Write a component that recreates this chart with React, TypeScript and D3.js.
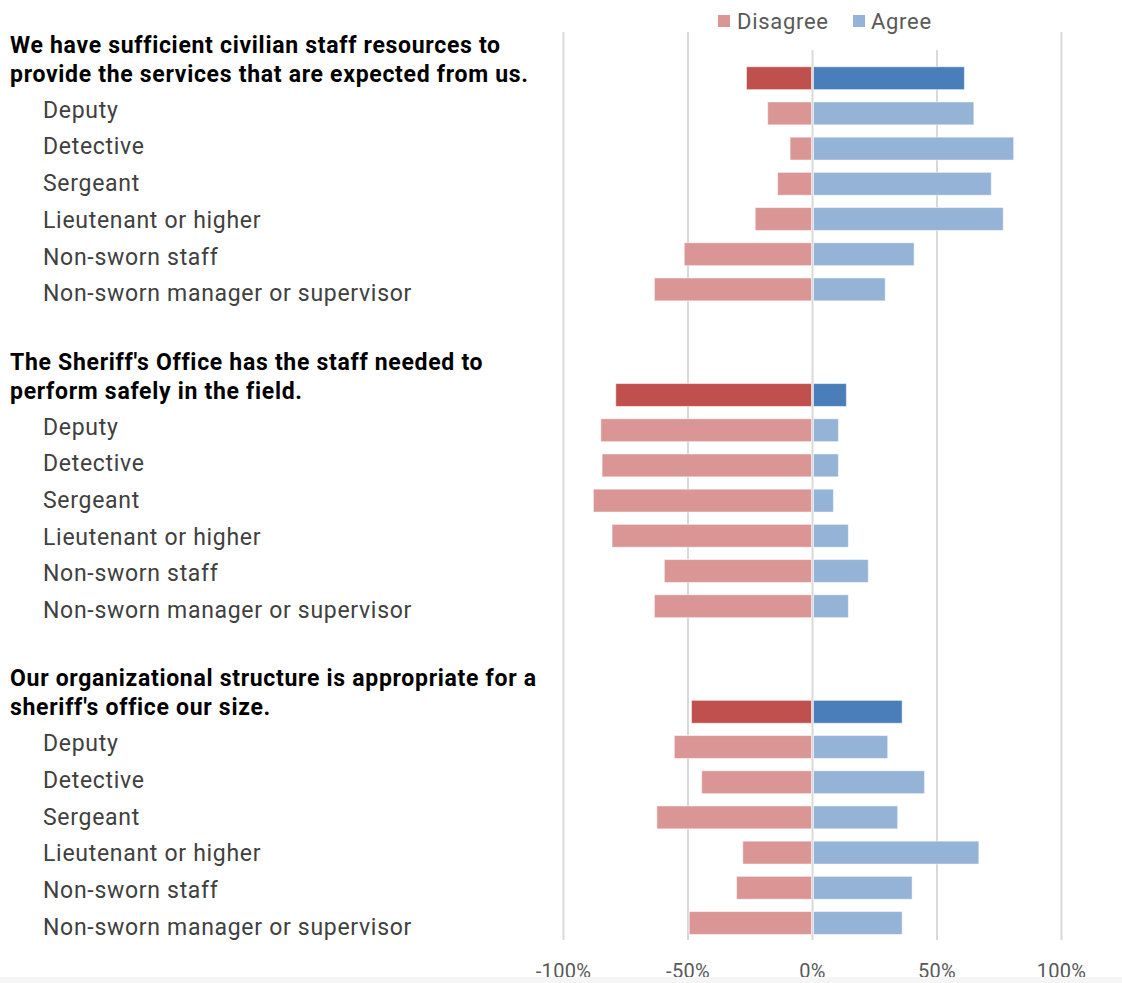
import React from "react";
import * as d3 from "d3";

const questionLines: string[][] = [
  ["We have sufficient civilian staff resources to", "provide the services that are expected from us."],
  ["The Sheriff's Office has the staff needed to", "perform safely in the field."],
  ["Our organizational structure is appropriate for a", "sheriff's office our size."],
];
const roles = [
  "Deputy",
  "Detective",
  "Sergeant",
  "Lieutenant or higher",
  "Non-sworn staff",
  "Non-sworn manager or supervisor",
];
const disagreeTotal = [-26.5, -79, -48.6];
const agreeTotal = [61, 13.6, 36];
const disagreeByRole = [
  [-18, -9, -14, -23, -51.5, -63.5],
  [-85, -84.5, -88, -80.5, -59.5, -63.5],
  [-55.5, -44.5, -62.5, -28, -30.5, -49.5],
];
const agreeByRole = [
  [64.8, 80.8, 71.8, 76.6, 40.8, 29.2],
  [10.4, 10.4, 8.4, 14.4, 22.4, 14.4],
  [30.2, 45, 34.2, 66.8, 40, 36],
];
const ticks = [-100, -50, 0, 50, 100];
const legendItems = ["Disagree", "Agree"];

const W = 1122;
const H = 983;

export default function App() {
  const x = d3.scaleLinear().domain([-100, 100]).range([563.5, 1061.5]);
  // 9 slots per question: 2 for the title, 1 total, 6 roles
  const slots: string[] = [];
  questionLines.forEach((_, g) => {
    slots.push(`g${g}-a`, `g${g}-b`, `g${g}-t`);
    roles.forEach((_, i) => slots.push(`g${g}-r${i}`));
  });
  const y = d3.scaleBand<string>().domain(slots).range([-9.8, 940.6]).paddingInner(0.35).paddingOuter(0.175);
  const bh = y.bandwidth();
  const cy = (k: string) => (y(k) as number) + bh / 2;

  const rows: { key: string; dis: number; agr: number; total: boolean }[] = [];
  questionLines.forEach((_, g) => {
    rows.push({ key: `g${g}-t`, dis: disagreeTotal[g], agr: agreeTotal[g], total: true });
    roles.forEach((r, i) =>
      rows.push({ key: `g${g}-r${i}`, dis: disagreeByRole[g][i], agr: agreeByRole[g][i], total: false })
    );
  });

  const font = "Roboto, 'Noto Sans', sans-serif";
  const gridTop = 32;
  const gridBottom = 940;

  return (
    <svg
      width={W}
      height={H}
      style={{ position: "absolute", left: 0, top: 0, background: "#fff" }}
      fontFamily={font}
    >
      <rect x={0} y={0} width={W} height={H} fill="#fff" />
      {ticks.map((t) => (
        <line key={t} x1={x(t)} x2={x(t)} y1={gridTop} y2={gridBottom} stroke="#d9d9d9" strokeWidth={2} />
      ))}
      {/* legend box */}
      <rect x={705} y={0} width={245} height={50} fill="#fff" />
      <g>
        <rect x={718} y={15} width={12} height={12} fill="#D99694" />
        <text x={737} y={21} dominantBaseline="central" fontSize={22} letterSpacing={0.7} fill="#595959">
          {legendItems[0]}
        </text>
        <rect x={853} y={15} width={12} height={12} fill="#95B3D7" />
        <text x={871} y={21} dominantBaseline="central" fontSize={22} letterSpacing={0.7} fill="#595959">
          {legendItems[1]}
        </text>
      </g>
      {rows.map((r) => (
        <g key={r.key}>
          <rect
            x={x(r.dis)}
            y={y(r.key)}
            width={x(0) - x(r.dis) - 1}
            height={bh}
            fill={r.total ? "#C0504D" : "#D99694"}
            stroke="#fff"
            strokeOpacity={0.5}
            strokeWidth={1}
          />
          <rect
            x={x(0) + 1}
            y={y(r.key)}
            width={x(r.agr) - x(0) - 1}
            height={bh}
            fill={r.total ? "#4A7EBB" : "#95B3D7"}
            stroke="#fff"
            strokeOpacity={0.5}
            strokeWidth={1}
          />
        </g>
      ))}
      {questionLines.map((lines, g) => {
        const c = cy(`g${g}-t`);
        const line2 = c - 4;
        return (
          <g key={g}>
            <text x={10} fontSize={23} letterSpacing={0.7} fontWeight="bold" fill="#000">
              <tspan x={10} y={c - 33} dominantBaseline="central">
                {lines[0]}
              </tspan>
              <tspan x={10} y={line2} dominantBaseline="central">
                {lines[1]}
              </tspan>
            </text>
            {roles.map((r, i) => (
              <text
                key={r}
                x={43}
                y={line2 + 36 + i * 36.7}
                dominantBaseline="central"
                fontSize={23}
                letterSpacing={0.7}
                fill="#404040"
              >
                {r}
              </text>
            ))}
          </g>
        );
      })}
      {ticks.map((t) => (
        <text
          key={t}
          x={x(t)}
          y={971}
          textAnchor="middle"
          dominantBaseline="central"
          fontSize={20}
          letterSpacing={0.3}
          fill="#595959"
        >
          {`${t}%`}
        </text>
      ))}
      <rect x={0} y={977} width={W} height={6} fill="#f5f5f5" />
    </svg>
  );
}
